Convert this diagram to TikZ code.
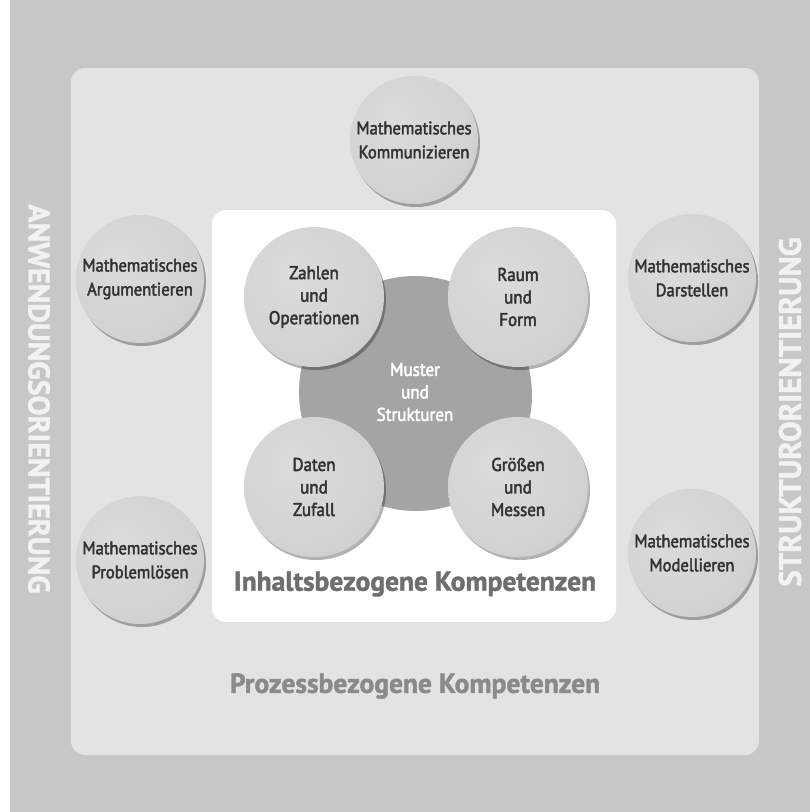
\documentclass[tikz,border=0pt]{standalone}
\usepackage{fontspec}
\setmainfont{PT Sans}
\newfontfamily\medfont{PT Sans}[FakeBold=2.5,FakeStretch=0.92]
\newfontfamily\heavyfont{PT Sans}[FakeBold=1.5]
\usetikzlibrary{shadows}
\definecolor{outerbg}{HTML}{C7C7C7}
\definecolor{lightbg}{HTML}{E3E3E3}
\definecolor{circa}{HTML}{DCDCDC}
\definecolor{circb}{HTML}{D2D2D2}
\definecolor{circc}{HTML}{C2C2C2}
\definecolor{circd}{HTML}{9E9E9E}
\definecolor{centerc}{HTML}{A4A4A4}
\definecolor{textdark}{HTML}{333333}
\definecolor{titlegray}{HTML}{6E6E6E}
\definecolor{procgray}{HTML}{8A8A8A}
\definecolor{sidetext}{HTML}{F2F2F2}
\pgfdeclareradialshading{ballgray}{\pgfpoint{-9bp}{9bp}}{%
  color(0bp)=(circa); color(28bp)=(circb); color(46bp)=(circc); color(60bp)=(circd)}
\begin{document}
\begin{tikzpicture}[x=1pt,y=-1pt,
  ball/.style={circle, inner sep=0pt, align=center, text=textdark,
    shading=ballgray,
    drop shadow={shadow xshift=2pt, shadow yshift=-3pt, fill=black, opacity=0.3}},
  procball/.style={ball, minimum size=128pt, font=\medfont\fontsize{18}{24}\selectfont},
  contball/.style={ball, minimum size=140pt, font=\medfont\fontsize{18.5}{22.5}\selectfont},
  centerball/.style={circle, inner sep=0pt, align=center, minimum size=232pt,
    fill=centerc, text=white, font=\medfont\fontsize{18.5}{22.5}\selectfont,
    drop shadow={shadow xshift=1pt, shadow yshift=-3pt, fill=black, opacity=0.35}},
  title/.style={font=\heavyfont\bfseries\fontsize{27.5}{30}\selectfont},
  side/.style={font=\heavyfont\bfseries\fontsize{30}{32}\selectfont, text=sidetext}
]
\useasboundingbox (0,0) rectangle (810,812);
\fill[white] (0,0) rectangle (810,812);
\fill[outerbg] (10,0) rectangle (810,812);
\fill[lightbg, rounded corners=14pt] (71,68) rectangle (759,755);
\fill[white, rounded corners=14pt] (212,210) rectangle (616,622);

\node[side, rotate=-90] (anw) at (39,399) {ANWENDUNGSORIENTIERUNG};
\node[side, rotate=90, font=\heavyfont\bfseries\fontsize{31}{32}\selectfont] (str) at (790,412) {STRUKTURORIENTIERUNG};

\node[procball] (komm) at (414,140) {Mathematisches\\Kommunizieren};
\node[procball] (arg) at (140,279) {Mathematisches\\Argumentieren};
\node[procball] (dar) at (692,278) {Mathematisches\\Darstellen};
\node[procball] (prob) at (140,560) {Mathematisches\\Problemlösen};
\node[procball] (mod) at (692,553) {Mathematisches\\Modellieren};

\node[centerball] (must) at (415,392) {Muster\\und\\Strukturen};
\node[contball] (zahl) at (314,297) {Zahlen\\und\\Operationen};
\node[contball] (raum) at (518,297) {Raum\\und\\Form};
\node[contball] (dat) at (314,487) {Daten\\und\\Zufall};
\node[contball] (gro) at (518,487) {Größen\\und\\Messen};

\node[title, text=titlegray] (inh) at (415,584) {Inhaltsbezogene Kompetenzen};
\node[title, text=procgray] (proz) at (415,686) {Prozessbezogene Kompetenzen};
\end{tikzpicture}
\end{document}
